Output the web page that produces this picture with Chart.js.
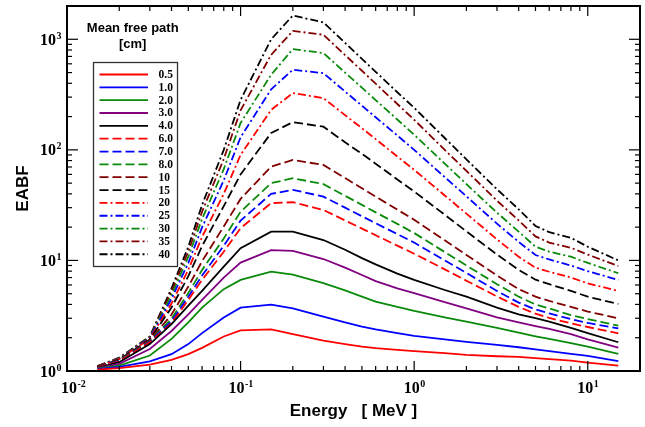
<!DOCTYPE html>
<html><head><meta charset="utf-8">
<script src="https://cdn.jsdelivr.net/npm/chart.js@4/dist/chart.umd.min.js"></script>
<style>html,body{margin:0;padding:0;background:#fff}</style>
</head><body>
<canvas id="c" width="645" height="427"></canvas>
<script>
// ---- data ----
const energies = [0.015,0.02,0.03,0.04,0.05,0.06,0.08,0.1,0.15,0.2,0.3,0.4,0.5,0.6,0.8,1,1.5,2,3,4,5,6,8,10,15];
const mfpLabels = ['0.5','1.0','2.0','3.0','4.0','6.0','7.0','8.0','10','15','20','25','30','35','40'];
const eabf_0_5 = [1.03,1.06,1.14,1.26,1.42,1.62,2.05,2.33,2.38,2.16,1.88,1.75,1.66,1.61,1.55,1.51,1.45,1.40,1.36,1.34,1.31,1.28,1.24,1.19,1.12];
const eabf_1 = [1.04,1.09,1.22,1.42,1.75,2.2,3.05,3.74,3.98,3.69,3.10,2.75,2.52,2.38,2.2,2.08,1.93,1.83,1.72,1.64,1.57,1.51,1.43,1.37,1.23];
const eabf_2 = [1.05,1.12,1.38,1.95,2.75,3.75,5.5,6.66,7.92,7.44,6.22,5.35,4.70,4.25,3.80,3.49,3.05,2.79,2.45,2.22,2.06,1.95,1.79,1.66,1.43];
const eabf_3 = [1.06,1.16,1.58,2.3,3.25,4.4,7.0,9.55,12.4,12.2,10.3,8.6,7.39,6.5,5.6,5.06,4.2,3.69,3.05,2.75,2.55,2.4,2.15,1.93,1.63];
const eabf_4 = [1.07,1.2,1.75,2.65,3.9,5.3,8.8,12.9,18.2,18.2,15.3,12.5,10.5,9.2,7.6,6.66,5.4,4.70,3.75,3.25,3.0,2.8,2.45,2.2,1.82];
const eabf_6 = [1.08,1.22,1.82,2.7,4.4,6.66,12,19.6,33.0,33.6,28.6,23,19.4,16.9,13.6,11.5,8.3,6.56,4.72,3.8,3.3,3.02,2.7,2.5,2.19];
const eabf_7 = [1.08,1.23,1.84,2.82,4.7,7.3,13.6,22.9,40,43.5,37.8,30,25.1,21.7,17.3,14.5,10,7.7,5.3,4.15,3.6,3.32,2.95,2.72,2.43];
const eabf_8 = [1.085,1.24,1.86,2.97,5.07,8.2,15.8,27.6,50,55.4,49,38.4,31.8,27.2,21.4,17.7,11.9,9.0,6.1,4.7,4.0,3.68,3.2,2.95,2.57];
const eabf_10 = [1.09,1.25,1.89,3.24,5.8,9.85,20.3,36,70.6,81,73,55.6,45,37.8,28.8,23.3,15.2,11.2,7.3,5.5,4.7,4.3,3.8,3.45,3.0];
const eabf_15 = [1.095,1.27,1.93,3.75,7.2,13.5,31,60,142,178,162,117,92,75,54,42,25.9,18.3,11.3,8.2,6.7,6.1,5.3,4.7,4.04];
const eabf_20 = [1.1,1.28,1.96,4.08,8.25,16.3,40,90,230,326,294,206,157,125,87,66,38.7,26.5,15.5,10.8,8.6,7.9,7.0,6.2,5.3];
const eabf_25 = [1.1,1.29,1.99,4.5,9.5,19.9,53,130,353,530,494,337,251,197,135,100,56.7,38,21.5,14.7,11.2,10.2,9.0,8.0,6.66];
const eabf_30 = [1.105,1.30,2.01,4.87,10.8,23.7,67,175,478,815,750,500,365,282,188,137,75,49,27,18.2,13.3,12.0,10.8,9.5,7.66];
const eabf_35 = [1.11,1.31,2.03,5.24,12.0,27.6,82.6,228,724,1190,1099,720,519,397,260,187,100,64.6,34.7,23,16.5,14.5,13,11.3,8.9];
const eabf_40 = [1.11,1.32,2.05,5.6,13.3,31.8,100,283,1000,1641,1420,927,665,508,332,240,128,82,44,29,20.5,18,16,13.3,10];
const xTickPowers = [-2,-1,0,1];
const yTickPowers = [0,1,2,3];

// ---- styles ----
const RED='#ff0000', BLUE='#0000ff', GREEN='#0a8a0a', PURPLE='#800080', MAROON='#800000', BLACK='#000000';
const SOLID=[], DASH=[9,4], DDOT=[8,3,2,3];
const seriesValues = [eabf_0_5,eabf_1,eabf_2,eabf_3,eabf_4,eabf_6,eabf_7,eabf_8,eabf_10,eabf_15,eabf_20,eabf_25,eabf_30,eabf_35,eabf_40];
const colors = [RED,BLUE,GREEN,PURPLE,BLACK,RED,BLUE,GREEN,MAROON,BLACK,RED,BLUE,GREEN,MAROON,BLACK];
const dashes = [SOLID,SOLID,SOLID,SOLID,SOLID,DASH,DASH,DASH,DASH,DASH,DDOT,DDOT,DDOT,DDOT,DDOT];

const datasets = seriesValues.map((vals,i)=>({
  label: mfpLabels[i],
  data: energies.map((e,j)=>({x:e,y:vals[j]})),
  borderColor: colors[i], backgroundColor: colors[i],
  borderDash: dashes[i], borderWidth: 1.8,
  pointRadius: 0, tension: 0, fill: false
}));

const SERIF='"Liberation Serif", "Times New Roman", serif';
function drawPow(ctx, x, y, exp, mode){
  const base='10', ex=String(exp);
  ctx.font='bold 16px '+SERIF;
  const wb=ctx.measureText(base).width;
  ctx.font='bold 10px '+SERIF;
  const we=ctx.measureText(ex).width;
  let sx = mode==='center' ? x-(wb+we)/2 : (mode==='left' ? x : x-(wb+we));
  ctx.textAlign='left'; ctx.textBaseline='alphabetic'; ctx.fillStyle='#000';
  ctx.font='bold 16px '+SERIF;
  ctx.fillText(base, sx, y);
  ctx.font='bold 10px '+SERIF;
  ctx.fillText(ex, sx+wb+0.5, y-6);
}

const framePlugin = {
  id:'frame',
  afterDraw(chart){
    const ctx=chart.ctx, a=chart.chartArea, xs=chart.scales.x, ys=chart.scales.y;
    ctx.save();
    ctx.strokeStyle='#000'; ctx.lineWidth=1.2; ctx.setLineDash([]);
    const ln=(x1,y1,x2,y2)=>{ctx.beginPath();ctx.moveTo(x1,y1);ctx.lineTo(x2,y2);ctx.stroke();};
    for(let p=-2;p<=1;p++) for(let m=1;m<=9;m++){
      const v=m*Math.pow(10,p); if(v>=xs.max) continue;
      const px=xs.getPixelForValue(v); const len=m===1?10:5;
      ln(px,a.bottom,px,a.bottom-len); ln(px,a.top,px,a.top+len);
    }
    for(let p=0;p<=3;p++) for(let m=1;m<=9;m++){
      const v=m*Math.pow(10,p); if(v>=ys.max) continue;
      const py=ys.getPixelForValue(v); const len=m===1?11:5;
      ln(a.left,py,a.left+len,py); ln(a.right,py,a.right-len,py);
    }
    ctx.lineWidth=2;
    ctx.strokeRect(a.left,a.top,a.right-a.left,a.bottom-a.top);
    // tick labels
    xTickPowers.forEach(p=>{
      const px=xs.getPixelForValue(Math.pow(10,p));
      if(px<=a.left+1) drawPow(ctx, px-6, a.bottom+22, p, 'left');
      else drawPow(ctx, px, a.bottom+22, p, 'center');
    });
    yTickPowers.forEach(p=>drawPow(ctx, a.left-6, ys.getPixelForValue(Math.pow(10,p))+5.5, p, 'right'));
    // legend
    ctx.fillStyle='#000'; ctx.textAlign='center'; ctx.textBaseline='middle';
    ctx.font='bold 13px "Liberation Sans", Arial, sans-serif';
    ctx.fillText('Mean free path',132.7,28.5);
    ctx.fillText('[cm]',132.7,44.5);
    ctx.fillStyle='#fff'; ctx.fillRect(93.5,62.5,84,204);
    ctx.strokeStyle='#333'; ctx.lineWidth=1.3; ctx.strokeRect(93.5,62.5,84,204);
    chart.data.datasets.forEach((ds,i)=>{
      const y=74.5+i*12.84;
      ctx.strokeStyle=ds.borderColor; ctx.lineWidth=1.8; ctx.setLineDash(ds.borderDash);
      ln(99.5,y,148,y);
      ctx.setLineDash([]);
      ctx.fillStyle='#000'; ctx.textAlign='left'; ctx.textBaseline='middle';
      ctx.font='bold 11.5px '+SERIF;
      ctx.fillText(ds.label,158.5,y+0.5);
    });
    ctx.restore();
  }
};

new Chart(document.getElementById('c'),{
  type:'line',
  data:{datasets},
  options:{
    responsive:false, animation:false, devicePixelRatio:1,
    layout:{padding:{top:6,right:5,left:0,bottom:0}},
    plugins:{legend:{display:false},tooltip:{enabled:false}},
    scales:{
      x:{type:'logarithmic',min:0.01,max:20,
         grid:{display:false}, border:{display:false}, ticks:{display:false},
         afterFit:s=>{s.height=56;},
         title:{display:true,text:'Energy   [ MeV ]',color:'#000',
                font:{family:'"Liberation Sans", Arial, sans-serif',size:17,weight:'bold'},
                padding:{top:0,bottom:5}}},
      y:{type:'logarithmic',min:1,max:2000,
         grid:{display:false}, border:{display:false}, ticks:{display:false},
         afterFit:s=>{s.width=67;},
         title:{display:true,text:'EABF',color:'#000',
                font:{family:'"Liberation Sans", Arial, sans-serif',size:17,weight:'bold'},
                padding:{top:13,bottom:0}}}
    }
  },
  plugins:[framePlugin]
});
</script>
</body></html>
